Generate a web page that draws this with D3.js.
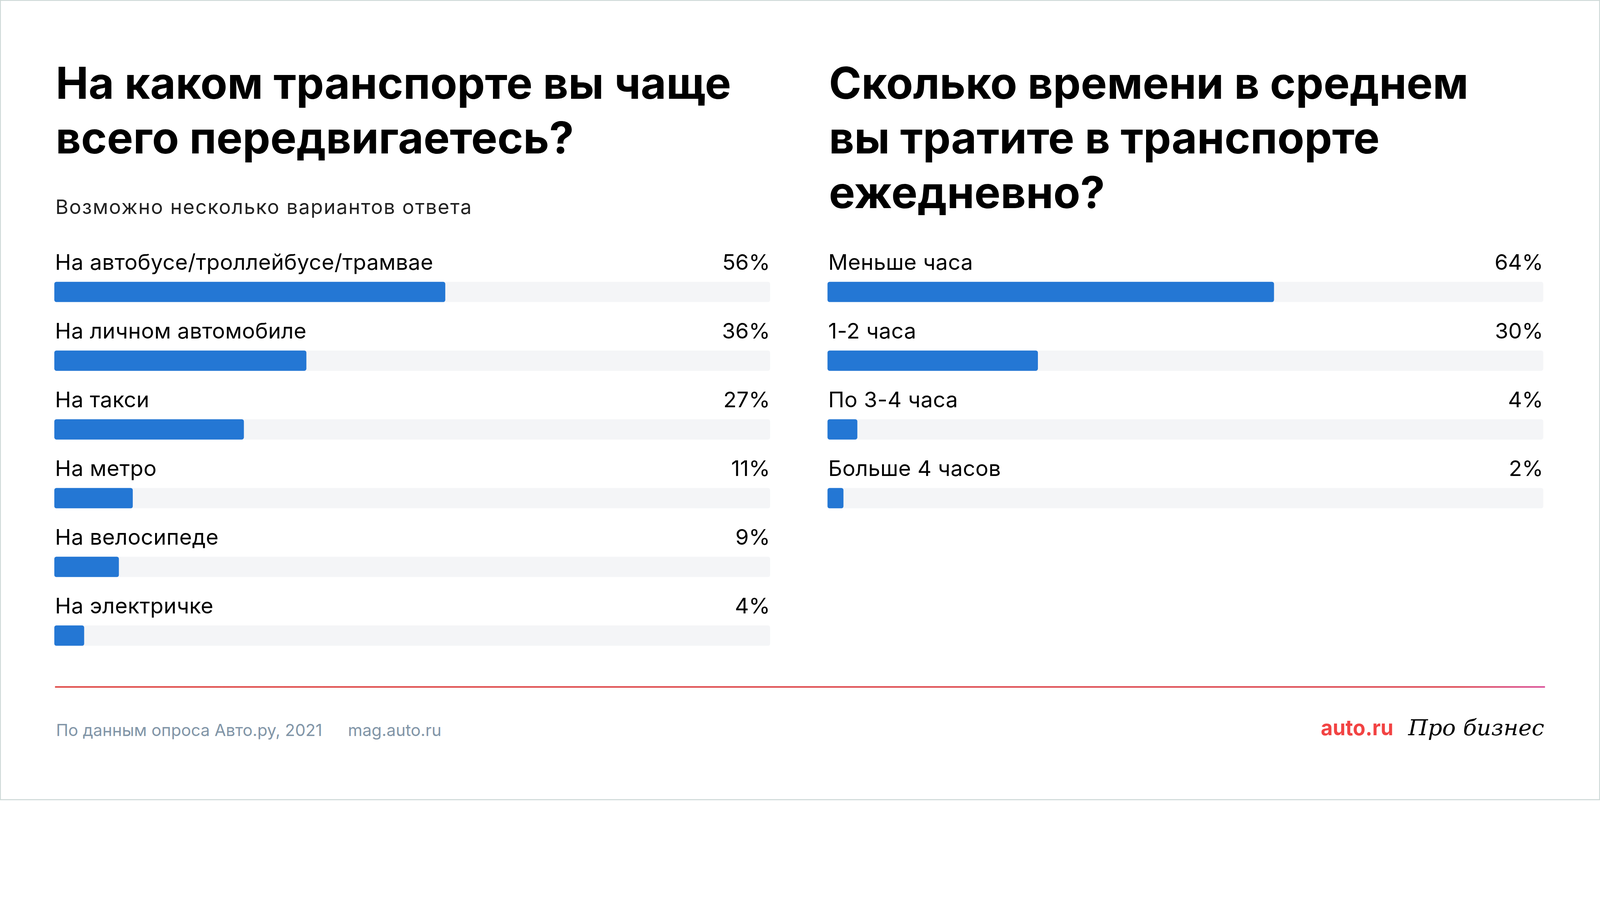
<!DOCTYPE html>
<html>
<head>
<meta charset="utf-8">
<script src="https://cdn.jsdelivr.net/npm/d3@7"></script>
<style>
  html, body { margin: 0; padding: 0; background: #fff; overflow: hidden; width: 100%; height: 100%; }
  svg { display: block; }
</style>
</head>
<body>
<script>
// data
var transportTitle = ["На каком транспорте вы чаще", "всего передвигаетесь?"];
var transportNote = "Возможно несколько вариантов ответа";
var transportCategories = ["На автобусе/троллейбусе/трамвае", "На личном автомобиле", "На такси", "На метро", "На велосипеде", "На электричке"];
var transportValues = [56, 36, 27, 11, 9, 4];

var timeTitle = ["Сколько времени в среднем", "вы тратите в транспорте", "ежедневно?"];
var timeCategories = ["Меньше часа", "1-2 часа", "По 3-4 часа", "Больше 4 часов"];
var timeValues = [64, 30, 4, 2];

var sourceText = "По данным опроса Авто.ру, 2021";
var siteText = "mag.auto.ru";

var W = 4654, H = 2328;
var colLeft = [158, 2407];
var colWidth = 2082;

// fit the drawing to the window, pinned to the top left corner
var svg = d3.select("body").append("svg")
    .attr("viewBox", `0 0 ${W} ${H}`)
    .attr("preserveAspectRatio", "xMinYMin meet")
    .style("width", "100vw")
    .style("height", "100vh");

// frame
svg.append("rect")
    .attr("x", 1).attr("y", 1)
    .attr("width", W - 2).attr("height", H - 2)
    .attr("fill", "#fff")
    .attr("stroke", "#cdd8d6")
    .attr("stroke-width", 3);

// bars are a little longer than pct * step, like in the original
var x = d3.scaleLinear()
    .domain([0, 100])
    .range([6, 2026]);

function drawTitle(g, lines) {
  g.selectAll("text.title")
    .data(lines)
    .enter()
    .append("text")
    .attr("class", "title")
    .attr("x", 4)
    .attr("y", (d, i) => 288 + i * 159)
    .attr("font-family", "Inter")
    .attr("font-weight", 700)
    .attr("font-size", 128)
    .attr("fill", "#000")
    .text(d => d);
}

function drawRows(g, cats, vals) {
  var y = d3.scaleBand()
      .domain(cats)
      .range([735, 735 + 200 * cats.length]);

  var row = g.selectAll("g.row")
      .data(cats)
      .enter()
      .append("g")
      .attr("class", "row")
      .attr("transform", d => `translate(0, ${y(d)})`);

  row.append("text")
      .attr("x", 2)
      .attr("y", 50)
      .attr("font-family", "Inter")
      .attr("font-size", 63)
      .attr("letter-spacing", 0.5)
      .attr("fill", "#000")
      .text(d => d);

  row.append("text")
      .attr("x", colWidth)
      .attr("y", 50)
      .attr("text-anchor", "end")
      .attr("font-family", "Inter")
      .attr("font-size", 63)
      .attr("fill", "#000")
      .text((d, i) => vals[i] + "%");

  // grey track
  row.append("rect")
      .attr("x", 0)
      .attr("y", 85)
      .attr("width", colWidth)
      .attr("height", 59)
      .attr("rx", 6)
      .attr("fill", "#f4f5f7");

  // value bar
  row.append("rect")
      .attr("x", 0)
      .attr("y", 85)
      .attr("width", (d, i) => x(vals[i]))
      .attr("height", 59)
      .attr("rx", 6)
      .attr("fill", "#2477d4");
}

var left = svg.append("g").attr("transform", `translate(${colLeft[0]}, 0)`);
drawTitle(left, transportTitle);
left.append("text")
    .attr("x", 3)
    .attr("y", 623)
    .attr("font-family", "Inter")
    .attr("font-size", 58)
    .attr("letter-spacing", 2.5)
    .attr("fill", "#222")
    .text(transportNote);
drawRows(left, transportCategories, transportValues);

var right = svg.append("g").attr("transform", `translate(${colLeft[1]}, 0)`);
drawTitle(right, timeTitle);
drawRows(right, timeCategories, timeValues);

// footer line with a pink tail
var grad = svg.append("defs").append("linearGradient")
    .attr("id", "footLine")
    .attr("x1", "0%").attr("x2", "100%");
grad.append("stop").attr("offset", "0%").attr("stop-color", "#dc3a36");
grad.append("stop").attr("offset", "94%").attr("stop-color", "#da3a44");
grad.append("stop").attr("offset", "100%").attr("stop-color", "#d63f8e");

svg.append("rect")
    .attr("x", 160)
    .attr("y", 1997)
    .attr("width", 4334)
    .attr("height", 4)
    .attr("fill", "url(#footLine)");

var foot = svg.append("g").attr("font-family", "Inter").attr("font-size", 48).attr("fill", "#8195a7");
foot.append("text").attr("x", 163).attr("y", 2142).text(sourceText);
foot.append("text").attr("x", 1012).attr("y", 2142).text(siteText);

// logos
svg.append("text")
    .attr("x", 3842)
    .attr("y", 2140)
    .attr("font-family", "Inter")
    .attr("font-weight", 700)
    .attr("font-size", 62)
    .attr("fill", "#f24343")
    .attr("textLength", 211)
    .attr("lengthAdjust", "spacingAndGlyphs")
    .text("auto.ru");

svg.append("text")
    .attr("x", 4096)
    .attr("y", 2140)
    .attr("font-family", "DejaVu Serif")
    .attr("font-style", "italic")
    .attr("font-size", 64)
    .attr("fill", "#000")
    .attr("textLength", 396)
    .attr("lengthAdjust", "spacingAndGlyphs")
    .text("Про бизнес");
</script>
</body>
</html>
